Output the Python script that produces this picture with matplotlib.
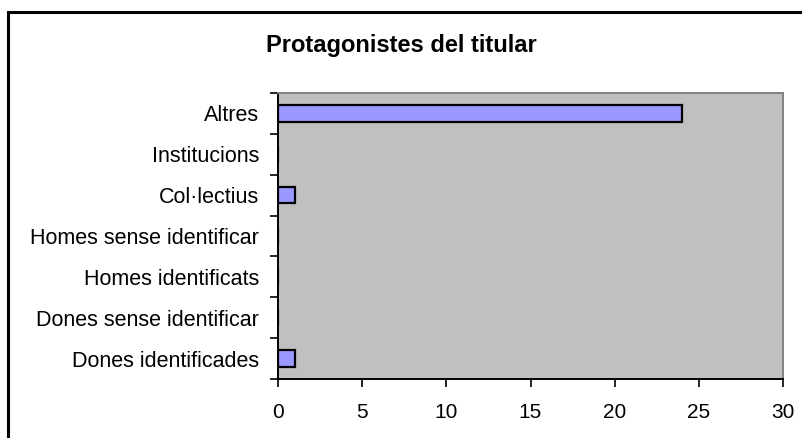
import numpy as np
import matplotlib.pyplot as plt
from matplotlib.patches import Rectangle

plt.rcParams['font.family'] = ['Liberation Sans', 'DejaVu Sans']

# data
categories = ['Dones identificades', 'Dones sense identificar', 'Homes identificats',
              'Homes sense identificar', 'Col\u00b7lectius', 'Institucions', 'Altres']
values = [1, 0, 0, 0, 1, 0, 24]
xticks = [0, 5, 10, 15, 20, 25, 30]

fig = plt.figure(figsize=(8.02, 4.38), dpi=100)
ax = fig.add_axes([278 / 802, 1 - 379 / 438, 505 / 802, 286 / 438])

# outer chart frame (cut off at right and bottom like the original)
fig.patches.append(Rectangle((7.5 / 802, -0.1), 1.2, 1 - 11.5 / 438 + 0.1,
                             transform=fig.transFigure, fill=False,
                             edgecolor='black', linewidth=2.2))

y = np.arange(len(categories))
ax.set_facecolor('#C0C0C0')
ax.barh(y, values, height=0.4, color='#9999FF', edgecolor='black', linewidth=1.6)

ax.set_xlim(0, 30)
ax.set_ylim(-0.5, len(categories) - 0.5)
ax.set_xticks(xticks)
ax.set_xticklabels([str(t) for t in xticks])

# tick marks between categories, labels in the middle
ax.set_yticks(np.arange(len(categories) + 1) - 0.5)
ax.set_yticklabels([])
ax.set_yticks(y, minor=True)
ax.set_yticklabels(categories, minor=True)
ax.tick_params(axis='y', which='major', direction='out', length=6, width=1.2)
ax.tick_params(axis='y', which='minor', length=0, pad=13.5, labelsize=15.5)
ax.tick_params(axis='x', direction='out', length=6, width=1.2, pad=11, labelsize=15)

for side in ['left', 'bottom']:
    ax.spines[side].set_color('black')
    ax.spines[side].set_linewidth(1.4)
for side in ['top', 'right']:
    ax.spines[side].set_color('#808080')
    ax.spines[side].set_linewidth(1.4)

fig.text(0.5, 1 - 52 / 438, 'Protagonistes del titular', ha='center', va='baseline',
         fontsize=17, fontweight='bold')

fig.savefig('out.png', dpi=100)
